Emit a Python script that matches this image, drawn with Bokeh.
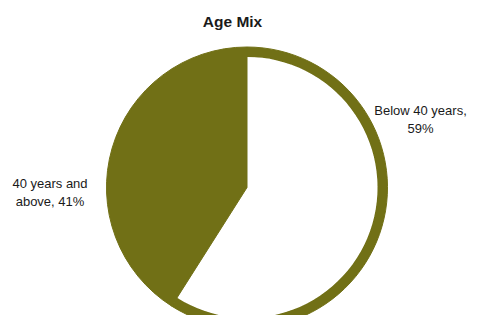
import math
from bokeh.plotting import figure
from bokeh.models import ColumnDataSource, Range1d
from bokeh.core.properties import value
from bokeh.embed import file_html
from bokeh.resources import INLINE

# ---- data ----
title_text = "Age Mix"
categories = ["Below 40 years,\n59%", "40 years and\nabove, 41%"]
values = [59, 41]

# ---- styles ----
OLIVE = "#717016"
W, H = 469, 315
CX, CY = 246.5, 128
R_OUT, RING = 140.5, 10

total = float(sum(values))
starts, ends = [], []
a = math.pi / 2
for v in values:
    starts.append(a)
    a = a - 2 * math.pi * v / total
    ends.append(a)

p = figure(width=W, height=H, output_backend="svg", toolbar_location=None,
           x_range=Range1d(0, W), y_range=Range1d(0, H), min_border=0)
p.axis.visible = False
p.grid.visible = False
p.outline_line_color = None
p.background_fill_color = "white"
p.border_fill_color = "white"

# slice 1: white fill with olive outer ring
p.annular_wedge(x=CX, y=CY, inner_radius=R_OUT - RING, outer_radius=R_OUT,
                start_angle=starts[0], end_angle=ends[0], direction="clock",
                fill_color=OLIVE, line_color=OLIVE)
p.wedge(x=CX, y=CY, radius=R_OUT - RING, start_angle=starts[0], end_angle=ends[0],
        direction="clock", fill_color="white", line_color=None)
# slice 2: olive
p.wedge(x=CX, y=CY, radius=R_OUT, start_angle=starts[1], end_angle=ends[1],
        direction="clock", fill_color=OLIVE, line_color=OLIVE)

lab = ColumnDataSource(dict(x=[420, 49.5], y=[H - 119, H - 192], t=categories))
p.text(x="x", y="y", text="t", source=lab, text_align="center",
       text_baseline="middle", text_font=value("Liberation Sans"),
       text_font_size="13px", text_color="#1a1a1a", text_line_height=1.15)

p.text(x=[232], y=[H - 21], text=[title_text], text_align="center",
       text_baseline="alphabetic", text_font=value("Liberation Sans"),
       text_font_style="bold", text_font_size="15.5px", text_color="#1a1a1a")

open("out.html", "w").write(file_html(p, INLINE))
